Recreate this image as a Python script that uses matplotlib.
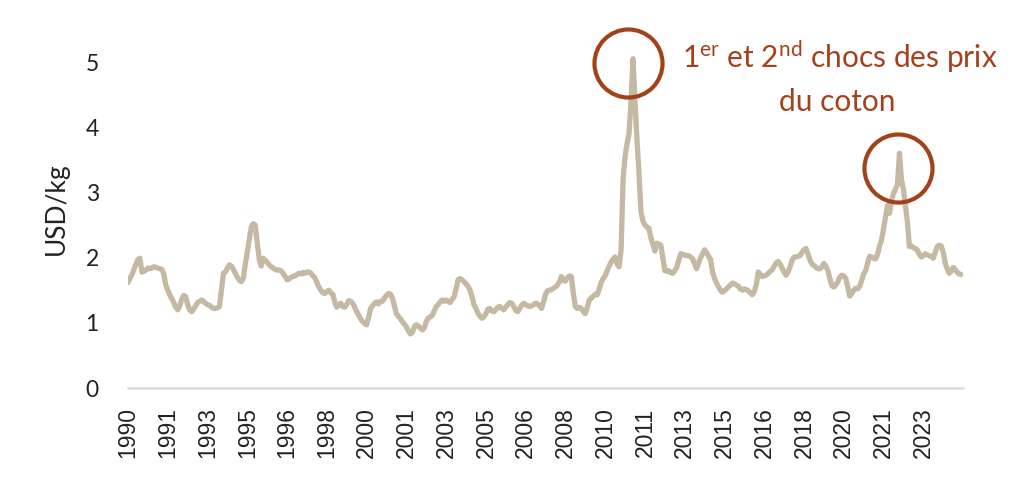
import matplotlib
matplotlib.use('Agg')
import matplotlib.pyplot as plt
import numpy as np

# Monthly cotton price, USD/kg, Jan 1990 - Dec 2024
p1990s = [
    1.62, 1.68, 1.74, 1.82, 1.90, 1.97, 1.99, 1.78, 1.79, 1.81, 1.84, 1.83,
    1.84, 1.86, 1.85, 1.84, 1.83, 1.82, 1.75, 1.58, 1.50, 1.43, 1.37, 1.31,
    1.24, 1.20, 1.26, 1.36, 1.42, 1.40, 1.28, 1.20, 1.17, 1.21, 1.26, 1.31,
    1.33, 1.35, 1.33, 1.30, 1.28, 1.27, 1.24, 1.22, 1.22, 1.23, 1.25, 1.50,
    1.76, 1.78, 1.84, 1.89, 1.87, 1.82, 1.76, 1.70, 1.65, 1.63, 1.68, 1.90,
    2.08, 2.28, 2.47, 2.52, 2.50, 2.22, 1.98, 1.87, 1.99, 1.96, 1.93, 1.89,
    1.86, 1.84, 1.82, 1.81, 1.81, 1.80, 1.76, 1.71, 1.66, 1.67, 1.70, 1.71,
    1.72, 1.74, 1.76, 1.75, 1.77, 1.76, 1.78, 1.78, 1.76, 1.72, 1.69, 1.62,
    1.55, 1.50, 1.46, 1.45, 1.48, 1.50, 1.46, 1.44, 1.32, 1.24, 1.27, 1.30,
    1.25, 1.24, 1.28, 1.34, 1.33, 1.30, 1.24, 1.17, 1.12, 1.06, 1.02, 0.99,
]
p2000s = [
    0.97, 1.08, 1.22, 1.26, 1.30, 1.32, 1.29, 1.33, 1.33, 1.38, 1.42, 1.45,
    1.44, 1.38, 1.26, 1.14, 1.10, 1.06, 1.02, 0.98, 0.94, 0.88, 0.83, 0.85,
    0.94, 0.97, 0.95, 0.92, 0.89, 0.92, 1.02, 1.07, 1.09, 1.11, 1.18, 1.25,
    1.28, 1.32, 1.35, 1.33, 1.35, 1.33, 1.31, 1.36, 1.40, 1.52, 1.66, 1.68,
    1.66, 1.63, 1.60, 1.56, 1.50, 1.40, 1.28, 1.22, 1.15, 1.10, 1.07, 1.09,
    1.14, 1.21, 1.22, 1.18, 1.17, 1.20, 1.24, 1.25, 1.22, 1.20, 1.24, 1.28,
    1.31, 1.30, 1.25, 1.19, 1.17, 1.22, 1.27, 1.30, 1.28, 1.26, 1.25, 1.26,
    1.28, 1.30, 1.29, 1.26, 1.22, 1.32, 1.44, 1.49, 1.50, 1.51, 1.53, 1.55,
    1.58, 1.63, 1.71, 1.65, 1.64, 1.69, 1.72, 1.71, 1.45, 1.25, 1.22, 1.24,
    1.22, 1.17, 1.14, 1.24, 1.35, 1.38, 1.41, 1.44, 1.43, 1.52, 1.62, 1.68,
]
p2010s = [
    1.72, 1.80, 1.87, 1.93, 1.98, 2.01, 1.90, 1.86, 2.12, 3.20, 3.55, 3.75,
    3.90, 4.40, 5.05, 4.40, 3.80, 3.30, 2.70, 2.56, 2.50, 2.47, 2.45, 2.30,
    2.20, 2.10, 2.22, 2.21, 2.19, 2.00, 1.80, 1.79, 1.80, 1.77, 1.76, 1.80,
    1.85, 1.96, 2.06, 2.05, 2.04, 2.03, 2.03, 2.01, 1.98, 1.90, 1.83, 1.92,
    2.00, 2.06, 2.12, 2.08, 2.02, 1.97, 1.78, 1.68, 1.61, 1.55, 1.50, 1.47,
    1.49, 1.52, 1.55, 1.58, 1.61, 1.60, 1.58, 1.56, 1.52, 1.50, 1.52, 1.51,
    1.49, 1.46, 1.43, 1.48, 1.58, 1.78, 1.74, 1.71, 1.72, 1.73, 1.76, 1.79,
    1.81, 1.87, 1.92, 1.94, 1.90, 1.84, 1.78, 1.73, 1.78, 1.86, 1.96, 2.01,
    2.01, 2.02, 2.03, 2.08, 2.12, 2.14, 2.06, 1.96, 1.90, 1.88, 1.85, 1.83,
    1.83, 1.86, 1.91, 1.87, 1.80, 1.68, 1.57, 1.55, 1.58, 1.63, 1.70, 1.73,
]
p2020s = [
    1.72, 1.68, 1.55, 1.41, 1.45, 1.50, 1.53, 1.52, 1.56, 1.65, 1.75, 1.80,
    1.92, 2.02, 2.01, 1.99, 1.98, 2.05, 2.18, 2.27, 2.45, 2.62, 2.80, 2.68,
    2.88, 2.98, 3.05, 3.12, 3.60, 3.20, 3.05, 2.80, 2.55, 2.17, 2.18, 2.15,
    2.14, 2.12, 2.05, 2.01, 2.03, 2.06, 2.04, 2.03, 2.02, 1.99, 2.08, 2.17,
    2.19, 2.18, 2.08, 1.92, 1.83, 1.76, 1.79, 1.85, 1.82, 1.78, 1.75, 1.74,
]
prices = p1990s + p2000s + p2010s + p2020s

# labels every 20 months
tick_step = 20
tick_labels = ['1990', '1991', '1993', '1995', '1996', '1998', '2000', '2001',
               '2003', '2005', '2006', '2008', '2010', '2011', '2013', '2015',
               '2016', '2018', '2020', '2021', '2023']

# the two price shocks (circle centres: month index, USD/kg)
shock_x = [251.5, 387.5]
shock_y = [4.98, 3.37]

line_color = '#C5B9A3'
accent = '#A3421A'

plt.rcParams['font.family'] = ['Lato', 'DejaVu Sans']
plt.rcParams['mathtext.fontset'] = 'custom'
plt.rcParams['mathtext.rm'] = 'Lato'

fig = plt.figure(figsize=(10.24, 4.86), dpi=100)
ax = fig.add_axes([0.125, 0.2016, 0.8155, 0.7379])

x = np.arange(len(prices))
ax.plot(x, prices, color=line_color, linewidth=3.8, solid_joinstyle='round',
        solid_capstyle='round', zorder=2)

ax.plot(shock_x, shock_y, linestyle='none', marker='o', markersize=49,
        markerfacecolor='none', markeredgecolor=accent, markeredgewidth=3.0,
        zorder=3, clip_on=False)

ax.set_xlim(0, 420)
ax.set_ylim(0, 5.5)
ax.set_yticks([0, 1, 2, 3, 4, 5])
ax.tick_params(axis='y', length=0, pad=21, labelsize=16.5, labelcolor='#222222')
ax.set_xticks(np.arange(0, tick_step * len(tick_labels), tick_step))
ax.set_xticklabels(tick_labels, rotation=90, fontfamily='Liberation Sans',
                   fontsize=16.5, color='#222222')
ax.tick_params(axis='x', length=0, pad=14)

for s in ['top', 'right', 'left']:
    ax.spines[s].set_visible(False)
ax.spines['bottom'].set_color('#E2DADA')
ax.spines['bottom'].set_linewidth(1.8)

ax.set_ylabel('USD/kg', fontsize=19, color='#222222', labelpad=12)

ax.text(0.82, 0.883, r'1$^{\mathrm{er}}$ et 2$^{\mathrm{nd}}$ chocs des prix',
        transform=fig.transFigure, ha='center', va='center', fontsize=21.5,
        color=accent)
ax.text(0.818, 0.79, 'du coton', transform=fig.transFigure, ha='center',
        va='center', fontsize=21.5, color=accent)

fig.savefig('out.png', dpi=100, facecolor='white')
